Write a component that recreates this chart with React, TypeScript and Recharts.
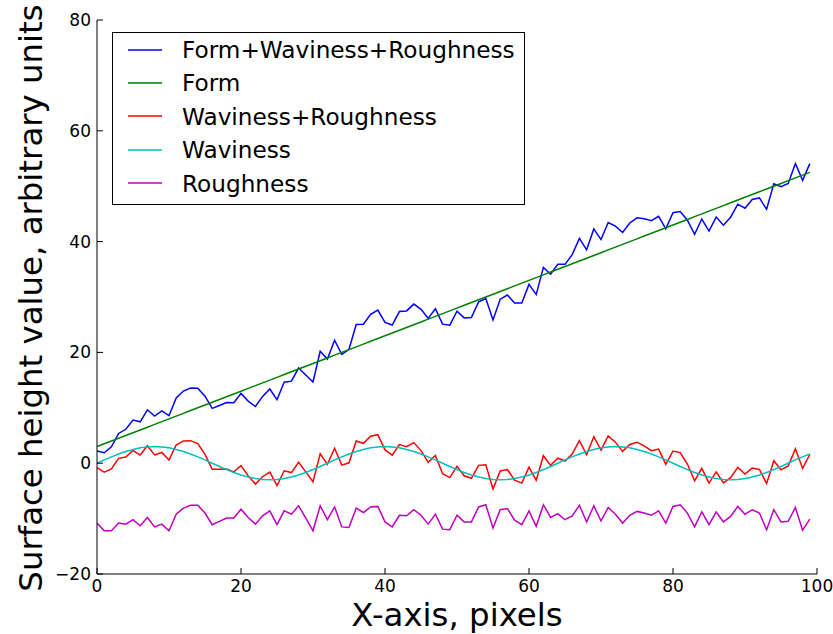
import React from 'react';
import { LineChart, Line, XAxis, YAxis, Legend, Label } from 'recharts';

const xs = [
  0, 1, 2, 3, 4, 5, 6, 7, 8, 9, 10, 11, 12, 13, 14, 15, 16, 17, 18, 19,
  20, 21, 22, 23, 24, 25, 26, 27, 28, 29, 30, 31, 32, 33, 34, 35, 36, 37, 38, 39,
  40, 41, 42, 43, 44, 45, 46, 47, 48, 49, 50, 51, 52, 53, 54, 55, 56, 57, 58, 59,
  60, 61, 62, 63, 64, 65, 66, 67, 68, 69, 70, 71, 72, 73, 74, 75, 76, 77, 78, 79,
  80, 81, 82, 83, 84, 85, 86, 87, 88, 89, 90, 91, 92, 93, 94, 95, 96, 97, 98, 99,
];

const formWavRough = [
  2.2, 1.89, 2.95, 5.37, 6.12, 7.79, 7.47, 9.64, 8.5, 9.44,
  8.57, 11.79, 13.02, 13.57, 13.55, 12.09, 9.9, 10.41, 10.95, 10.93,
  12.58, 11.21, 10.23, 12.06, 13.4, 11.46, 14.63, 14.81, 17.18, 15.93,
  14.65, 20.21, 18.8, 22.19, 19.65, 20.57, 25.02, 25.09, 26.87, 27.64,
  25.4, 24.94, 27.37, 27.49, 28.72, 27.77, 26.15, 27.89, 25.1, 24.91,
  27.45, 26.23, 26.28, 29.11, 29.73, 25.86, 29.6, 30.36, 28.93, 28.91,
  32.28, 30.43, 35.35, 34.11, 35.9, 35.89, 37.65, 40.57, 38.52, 42.29,
  40.37, 43.44, 42.8, 41.64, 43.37, 44.29, 44.12, 43.77, 44.55, 42.29,
  45.2, 45.41, 43.85, 41.33, 44.08, 41.91, 44.43, 42.96, 44.4, 46.76,
  46.03, 47.61, 47.88, 45.83, 50.45, 49.91, 50.5, 54.09, 51.05, 54.07,
];

const form = [
  3.0, 3.5, 4.0, 4.5, 5.0, 5.5, 6.0, 6.5, 7.0, 7.5,
  8.0, 8.5, 9.0, 9.5, 10.0, 10.5, 11.0, 11.5, 12.0, 12.5,
  13.0, 13.5, 14.0, 14.5, 15.0, 15.5, 16.0, 16.5, 17.0, 17.5,
  18.0, 18.5, 19.0, 19.5, 20.0, 20.5, 21.0, 21.5, 22.0, 22.5,
  23.0, 23.5, 24.0, 24.5, 25.0, 25.5, 26.0, 26.5, 27.0, 27.5,
  28.0, 28.5, 29.0, 29.5, 30.0, 30.5, 31.0, 31.5, 32.0, 32.5,
  33.0, 33.5, 34.0, 34.5, 35.0, 35.5, 36.0, 36.5, 37.0, 37.5,
  38.0, 38.5, 39.0, 39.5, 40.0, 40.5, 41.0, 41.5, 42.0, 42.5,
  43.0, 43.5, 44.0, 44.5, 45.0, 45.5, 46.0, 46.5, 47.0, 47.5,
  48.0, 48.5, 49.0, 49.5, 50.0, 50.5, 51.0, 51.5, 52.0, 52.5,
];

const wavRough = [
  -0.8, -1.61, -1.05, 0.87, 1.12, 2.29, 1.47, 3.14, 1.5, 1.94,
  0.57, 3.29, 4.02, 4.07, 3.55, 1.59, -1.1, -1.09, -1.05, -1.57,
  -0.42, -2.29, -3.77, -2.44, -1.6, -4.04, -1.37, -1.69, 0.18, -1.57,
  -3.35, 1.71, -0.2, 2.69, -0.35, 0.07, 4.02, 3.59, 4.87, 5.14,
  2.4, 1.44, 3.37, 2.99, 3.72, 2.27, 0.15, 1.39, -1.9, -2.59,
  -0.55, -2.27, -2.72, -0.39, -0.27, -4.64, -1.4, -1.14, -3.07, -3.59,
  -0.72, -3.07, 1.35, -0.39, 0.9, 0.39, 1.65, 4.07, 1.52, 4.79,
  2.37, 4.94, 3.8, 2.14, 3.37, 3.79, 3.12, 2.27, 2.55, -0.21,
  2.2, 1.91, -0.15, -3.17, -0.92, -3.59, -1.57, -3.54, -2.6, -0.74,
  -1.97, -0.89, -1.12, -3.67, 0.45, -1.19, -0.5, 2.59, -0.95, 1.57,
];

const waviness = [
  0, 0.59, 1.15, 1.67, 2.12, 2.49, 2.77, 2.94, 3.0, 2.94,
  2.77, 2.49, 2.12, 1.67, 1.15, 0.59, 0, -0.59, -1.15, -1.67,
  -2.12, -2.49, -2.77, -2.94, -3.0, -2.94, -2.77, -2.49, -2.12, -1.67,
  -1.15, -0.59, 0, 0.59, 1.15, 1.67, 2.12, 2.49, 2.77, 2.94,
  3.0, 2.94, 2.77, 2.49, 2.12, 1.67, 1.15, 0.59, 0, -0.59,
  -1.15, -1.67, -2.12, -2.49, -2.77, -2.94, -3.0, -2.94, -2.77, -2.49,
  -2.12, -1.67, -1.15, -0.59, 0, 0.59, 1.15, 1.67, 2.12, 2.49,
  2.77, 2.94, 3.0, 2.94, 2.77, 2.49, 2.12, 1.67, 1.15, 0.59,
  0, -0.59, -1.15, -1.67, -2.12, -2.49, -2.77, -2.94, -3.0, -2.94,
  -2.77, -2.49, -2.12, -1.67, -1.15, -0.59, 0, 0.59, 1.15, 1.67,
];

const roughness = [
  -10.8, -12.2, -12.2, -10.8, -11.0, -10.2, -11.3, -9.8, -11.5, -11.0,
  -12.2, -9.2, -8.1, -7.6, -7.6, -9.0, -11.1, -10.5, -9.9, -9.9,
  -8.3, -9.8, -11.0, -9.5, -8.6, -11.1, -8.6, -9.2, -7.7, -9.9,
  -12.2, -7.7, -10.2, -7.9, -11.5, -11.6, -8.1, -8.9, -7.9, -7.8,
  -10.6, -11.5, -9.4, -9.5, -8.4, -9.4, -11.0, -9.2, -11.9, -12.0,
  -9.4, -10.6, -10.6, -7.9, -7.5, -11.7, -8.4, -8.2, -10.3, -11.1,
  -8.6, -11.4, -7.5, -9.8, -9.1, -10.2, -9.5, -7.6, -10.6, -7.7,
  -10.4, -8.0, -9.2, -10.8, -9.4, -8.7, -9.0, -9.4, -8.6, -10.8,
  -7.8, -7.5, -9.0, -11.5, -8.8, -11.1, -8.8, -10.6, -9.6, -7.8,
  -9.2, -8.4, -9.0, -12.0, -8.4, -10.6, -10.5, -8.0, -12.1, -10.1,
];

const seriesNames = [
  'Form+Waviness+Roughness',
  'Form',
  'Waviness+Roughness',
  'Waviness',
  'Roughness',
];

const xTicks = [0, 20, 40, 60, 80, 100];
const yTicks = [-20, 0, 20, 40, 60, 80];

const data = xs.map((x, i) => ({
  x,
  fwr: formWavRough[i],
  form: form[i],
  wr: wavRough[i],
  wav: waviness[i],
  rough: roughness[i],
}));

const FONT = 'DejaVu Sans';
const TICK_LEN = 6;
const TICK_FS = 17;
const LABEL_FS = 32.4;
const LW = 1.5;

const fmt = (v: number) => (v < 0 ? '\u2212' + Math.abs(v) : String(v));

const BottomTick = (p: any) => (
  <g>
    <line x1={p.x} y1={p.y} x2={p.x} y2={p.y - TICK_LEN} stroke="#000" strokeWidth={1} />
    <text x={p.x} y={p.y + 6} dy="0.71em" textAnchor="middle" fontSize={TICK_FS} fontFamily={FONT} fill="#000">
      {fmt(p.payload.value)}
    </text>
  </g>
);

const LeftTick = (p: any) => (
  <g>
    <line x1={p.x} y1={p.y} x2={p.x + TICK_LEN} y2={p.y} stroke="#000" strokeWidth={1} />
    <text x={p.x - 6} y={p.y} dy="0.355em" textAnchor="end" fontSize={TICK_FS} fontFamily={FONT} fill="#000">
      {fmt(p.payload.value)}
    </text>
  </g>
);

const TopTick = (p: any) => (
  <line x1={p.x} y1={p.y} x2={p.x} y2={p.y + TICK_LEN} stroke="#000" strokeWidth={1} />
);

const RightTick = (p: any) => (
  <line x1={p.x} y1={p.y} x2={p.x - TICK_LEN} y2={p.y} stroke="#000" strokeWidth={1} />
);

const renderLegend = (props: any) => {
  const payload = [...(props.payload || [])].sort(
    (a: any, b: any) => seriesNames.indexOf(a.value) - seriesNames.indexOf(b.value)
  );
  return (
    <div
      style={{
        width: 411,
        height: 171,
        border: '1px solid #000',
        background: '#fff',
        paddingTop: 0.5,
        boxSizing: 'content-box',
      }}
    >
      {payload.map((entry: any) => (
        <div
          key={entry.value}
          style={{ display: 'flex', alignItems: 'center', height: 33.4 }}
        >
          <svg width={34} height={4} style={{ marginLeft: 15, display: 'block' }}>
            <line x1={0} y1={2} x2={34} y2={2} stroke={entry.color} strokeWidth={1.5} />
          </svg>
          <span
            style={{
              marginLeft: 20,
              fontSize: 23.2,
              fontFamily: FONT,
              color: '#000',
              lineHeight: '33.4px',
              whiteSpace: 'nowrap',
            }}
          >
            {entry.value}
          </span>
        </div>
      ))}
    </div>
  );
};

const YLabel = (props: any) => {
  const vb = props.viewBox || {};
  const cy = (vb.y || 0) + (vb.height || 0) / 2 + 1;
  const bx = 42;
  return (
    <text
      x={bx}
      y={cy}
      transform={`rotate(-90, ${bx}, ${cy})`}
      textAnchor="middle"
      fontSize={LABEL_FS}
      fontFamily={FONT}
      fill="#000"
    >
      Surface height value, arbitrary units
    </text>
  );
};

const XLabel = (props: any) => {
  const vb = props.viewBox || {};
  const cx = (vb.x || 0) + (vb.width || 0) / 2;
  return (
    <text x={cx} y={626} textAnchor="middle" fontSize={LABEL_FS} fontFamily={FONT} fill="#000">
      X-axis, pixels
    </text>
  );
};

export default function App() {
  const axisLine = { stroke: '#000', strokeWidth: 1 };
  return (
    <div style={{ position: 'fixed', left: 0, top: 0, width: 833, height: 634, background: '#fff' }}>
      <LineChart
        width={833}
        height={634}
        data={data}
        margin={{ top: 20, right: 16, bottom: 0, left: 0 }}
      >
        <XAxis
          xAxisId="main"
          dataKey="x"
          type="number"
          domain={[0, 100]}
          ticks={xTicks}
          allowDataOverflow
          height={60}
          tickSize={0}
          tickMargin={0}
          tick={(p: any) => <BottomTick {...p} />}
          axisLine={axisLine}
          tickLine={false}
        >
          <Label content={<XLabel />} />
        </XAxis>
        <XAxis
          xAxisId="top"
          orientation="top"
          type="number"
          domain={[0, 100]}
          ticks={xTicks}
          allowDataOverflow
          height={0}
          tickSize={0}
          tickMargin={0}
          tick={(p: any) => <TopTick {...p} />}
          axisLine={axisLine}
          tickLine={false}
        />
        <YAxis
          yAxisId="main"
          type="number"
          domain={[-20, 80]}
          ticks={yTicks}
          allowDataOverflow
          width={97}
          tickSize={0}
          tickMargin={0}
          tick={(p: any) => <LeftTick {...p} />}
          axisLine={axisLine}
          tickLine={false}
        >
          <Label content={<YLabel />} />
        </YAxis>
        <YAxis
          yAxisId="right"
          orientation="right"
          type="number"
          domain={[-20, 80]}
          ticks={yTicks}
          allowDataOverflow
          width={0}
          tickSize={0}
          tickMargin={0}
          tick={(p: any) => <RightTick {...p} />}
          axisLine={axisLine}
          tickLine={false}
        />
        <Legend
          layout="vertical"
          align="center"
          verticalAlign="middle"
          content={renderLegend}
          wrapperStyle={{ left: 112, top: 31.5, width: 413, height: 173 }}
        />
        <Line xAxisId="main" yAxisId="main" type="linear" dataKey="fwr" name={seriesNames[0]} stroke="#0000ff" strokeWidth={LW} dot={false} isAnimationActive={false} />
        <Line xAxisId="main" yAxisId="main" type="linear" dataKey="form" name={seriesNames[1]} stroke="#008000" strokeWidth={LW} dot={false} isAnimationActive={false} />
        <Line xAxisId="main" yAxisId="main" type="linear" dataKey="wr" name={seriesNames[2]} stroke="#ff0000" strokeWidth={LW} dot={false} isAnimationActive={false} />
        <Line xAxisId="main" yAxisId="main" type="linear" dataKey="wav" name={seriesNames[3]} stroke="#00bfbf" strokeWidth={LW} dot={false} isAnimationActive={false} />
        <Line xAxisId="main" yAxisId="main" type="linear" dataKey="rough" name={seriesNames[4]} stroke="#bf00bf" strokeWidth={LW} dot={false} isAnimationActive={false} />
      </LineChart>
    </div>
  );
}
